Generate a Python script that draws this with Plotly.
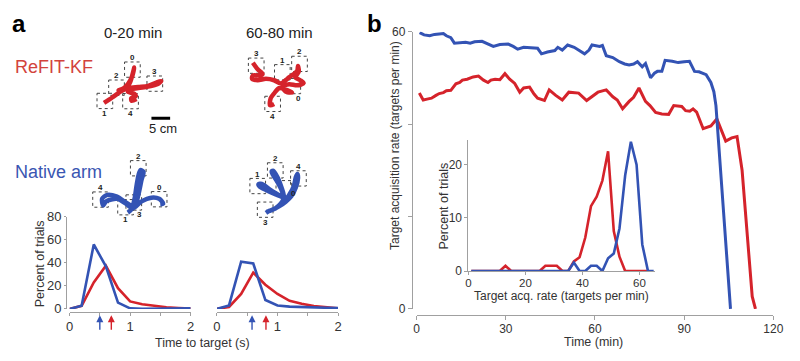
import plotly.graph_objects as go

FONT = "Arial, Liberation Sans, Helvetica, sans-serif"
RED = "#d5232b"
BLUE = "#3353b4"
RED_TXT = "#d2433c"
BLUE_TXT = "#3a56b2"
AXIS = "#a0a0a0"
TXT = "#333333"
W, H = 800, 361

# ---------------- panel b: target acquisition rate over time ----------------
native_time = [1, 2.5, 4.4, 6, 7.6, 9, 10, 11.5, 12.7, 14.5, 16.5, 18, 19.5, 22, 24, 25.8, 28,
               30.8, 32.5, 34, 36, 38, 40.7, 42, 44, 46.5, 47.5, 49, 50.8, 53, 55, 56.5, 58, 59,
               61.6, 62.5, 63.8, 66, 68.2, 70, 71.5, 73, 74.3, 75.9, 77, 78.7, 80, 81, 82.5, 83.6,
               86, 88, 90, 91.8, 93.5, 95, 97.4, 99, 100, 100.7, 105.6]
native_rate = [59.8, 59.3, 59.1, 59.4, 59.5, 59.6, 59.1, 58.7, 57.5, 57.6, 57.7, 57.5, 57.8, 57.9,
               57.3, 56.8, 57.2, 57.3, 56.8, 56.2, 56.6, 56.5, 56.4, 55.2, 55.6, 55.9, 56.6, 56.0,
               57.1, 56.6, 55.8, 55.2, 56.0, 57.1, 56.8, 57.0, 54.8, 54.4, 53.5, 53.0, 52.8, 53.0,
               53.5, 52.4, 53.1, 50.0, 51.0, 51.4, 51.4, 53.8, 53.6, 53.3, 53.5, 53.6, 51.4, 51.3,
               50.7, 49.0, 47.0, 44.0, 0.0]

refit_time = [0.9, 2.2, 3.5, 5, 6.5, 7.6, 9, 10, 11.5, 13.2, 14.5, 15.4, 17, 19, 20.8, 22.5, 24,
              25, 26.4, 28, 29.7, 31.3, 33, 34.7, 36, 38, 39.5, 40.7, 43, 44.6, 46.8, 49, 51.2,
              53, 54.5, 57.2, 59.4, 61, 63.8, 66, 67.5, 69.3, 71.5, 73, 74.8, 77, 78.5, 80.4,
              82.5, 84.8, 86.5, 89.2, 90.5, 91.9, 93, 94.2, 96.4, 99, 101, 104, 106, 107.8,
              109.5, 111.5, 112.9, 114]
refit_rate = [46.7, 45.2, 45.4, 45.6, 46.2, 46.6, 46.8, 47.2, 47.3, 48.7, 49.0, 49.5, 49.7, 50.2,
              50.4, 49.5, 49.0, 49.5, 49.7, 49.6, 50.9, 49.7, 48.8, 46.9, 47.8, 48.0, 46.5, 45.6,
              45.1, 47.4, 46.2, 45.2, 46.9, 46.8, 46.7, 45.1, 46.2, 46.9, 47.4, 45.9, 45.2, 43.3,
              44.9, 45.8, 47.8, 44.9, 44.0, 42.5, 42.2, 42.1, 44.0, 43.8, 42.9, 42.8, 43.3, 42.6,
              39.0, 39.6, 41.1, 36.3, 37.0, 37.3, 30.0, 14.0, 2.7, 0.0]

# inset histogram of acquisition rate
inset_rate = [1, 3, 5, 7, 9, 11, 13, 15, 17, 19, 21, 23, 25, 27, 29, 31, 33, 35, 37, 39, 41, 43,
              45, 47, 49, 51, 53, 55, 57, 59, 61, 63, 65]
inset_refit_pct = [0, 0, 0, 0, 0, 0, 1, 0, 0, 0, 0, 0, 0, 1, 1, 1, 0, 0, 1.8, 2.6, 6.3, 12.2,
                   14, 17, 22.5, 7.5, 2.7, 0, 0, 0, 0, 0, None]
inset_native_pct = [0, 0, 0, 0, 0, 0, 0, 0, 0, 0, 0, 0, 0, 0, 0, 0, 0, 0, 1.6, 0, 0, 1, 1, 0,
                    2.4, 3.3, 8, 18, 24.3, 20, 5, 0, 0]

# ---------------- panel a: time-to-target histograms ----------------
hist_time = [0, 0.2, 0.4, 0.6, 0.8, 1.0, 1.2, 1.4, 1.6, 1.8, 2.0]
hist_native_early = [0, 2.7, 56, 37, 5.5, 0.5, 0, 0, 0.3, 0.5, 0.5]
hist_refit_early = [0, 2.7, 23, 37.5, 18, 6.5, 4, 2.5, 1.5, 0.8, 0.3]
hist_native_late = [0, 3, 41, 39.5, 7.7, 3, 2, 1.5, 1, 1, 0.8]
hist_refit_late = [0, 1.7, 13, 31.5, 21, 13, 7, 4.4, 2.5, 1.2, 0.5]
median_early = {"native": 0.50, "refit": 0.69}
median_late = {"native": 0.58, "refit": 0.81}

# ---------------- panel a: example cursor trajectories (cm) ----------------
target_size_cm = 4.2
scale_bar_cm = 5

refit_early_targets = {"id": ["0", "2", "3", "1", "4"],
                       "x": [10.7, 6.45, 16.7, 3.33, 10.2],
                       "y": [5.35, 10.3, 9.2, 13.95, 14.0],
                       "side": ["a", "a", "a", "b", "b"]}
refit_early_x = [3.1, 5.3, 7.5, 9.2, 10.1, 10.7, 11.2, 10.7, 9.6, 8.3, 7.0, 9.6, 12.3, 14.9, 17.1,
                 18.4, 17.5, 14.9, 12.3, 10.4, 9.5, 11.2, 11.6, 10.4, 10.5, 11.8]
refit_early_y = [14.5, 13.0, 11.4, 10.4, 8.8, 6.8, 4.8, 7.0, 9.2, 10.5, 11.0, 10.4, 10.1, 9.8, 8.9,
                 8.5, 9.3, 10.0, 10.4, 10.8, 11.4, 12.0, 12.7, 13.2, 13.9, 13.4]

refit_late_targets = {"id": ["3", "1", "2", "0", "4"],
                      "x": [4.4, 11.4, 16.0, 14.2, 8.8],
                      "y": [5.6, 7.4, 5.1, 11.2, 16.1],
                      "side": ["a", "a", "a", "br", "b"]}
refit_late_x = [3.5, 4.8, 6.1, 5.3, 3.5, 3.3, 4.8, 7.0, 9.2, 11.0, 12.3, 13.2, 14.5, 15.4, 15.6,
                15.8, 14.9, 16.2, 17.1, 15.4, 13.2, 11.4, 12.3, 14.0, 12.7, 10.5, 9.2, 8.3, 8.1,
                9.2]
refit_late_y = [4.8, 6.6, 7.9, 8.3, 8.3, 9.2, 9.6, 9.2, 9.6, 10.5, 9.6, 8.8, 7.9, 7.0, 5.7, 7.2,
                8.8, 9.6, 10.4, 11.0, 10.7, 11.4, 12.7, 13.0, 12.3, 11.8, 13.2, 14.5, 16.5, 16.1]

native_early_targets = {"id": ["2", "4", "0", "1", "3"],
                        "x": [13.6, 3.5, 19.2, 10.2, 12.4],
                        "y": [4.8, 13.4, 13.3, 15.5, 14.2],
                        "side": ["a", "a", "a", "b", "br"]}
native_early_x = [10.8, 11.8, 12.6, 13.2, 13.7, 14.2, 15.0, 14.5, 13.7, 12.6, 10.3, 7.9, 5.3, 3.9,
                  4.2, 5.0, 7.9, 10.5, 12.1, 14.5, 17.1, 19.2, 20.3, 19.5]
native_early_y = [17.0, 16.1, 13.2, 9.2, 6.6, 5.3, 5.8, 7.9, 11.8, 15.3, 14.2, 12.6, 12.1, 13.2,
                  15.0, 13.9, 13.2, 14.7, 15.8, 13.9, 12.9, 13.2, 14.5, 14.7]

native_late_targets = {"id": ["2", "1", "4", "0", "3"],
                       "x": [9.5, 4.8, 15.7, 11.8, 6.8],
                       "y": [5.4, 9.7, 7.6, 10.3, 16.2],
                       "side": ["a", "a", "a", "r", "b"]}
native_late_x = [7.0, 7.9, 9.6, 11.0, 11.7, 11.4, 10.3, 9.0, 8.5, 9.0, 10.1, 11.1, 11.8, 9.6, 7.0,
                 5.3, 5.0, 5.9, 8.3, 11.0, 12.2, 13.4, 14.5, 15.0, 15.4, 15.6, 15.0, 13.8, 12.3,
                 10.5, 8.8, 7.2]
native_late_y = [17.1, 16.5, 15.8, 14.5, 13.2, 11.4, 9.0, 6.8, 5.7, 5.5, 7.3, 9.9, 12.7, 12.0,
                 10.8, 9.8, 9.2, 9.1, 10.8, 12.5, 13.4, 11.8, 9.6, 7.3, 6.4, 7.5, 10.1, 12.5,
                 14.0, 15.3, 16.2, 16.8]

# ---------------- figure ----------------
fig = go.Figure()


def py(p):
    return 1 - p / H


# main panel b
fig.add_trace(go.Scatter(x=refit_time, y=refit_rate, mode="lines", line=dict(color=RED, width=3),
                         xaxis="x", yaxis="y", cliponaxis=False, showlegend=False))
fig.add_trace(go.Scatter(x=native_time, y=native_rate, mode="lines", line=dict(color=BLUE, width=3),
                         xaxis="x", yaxis="y", cliponaxis=False, showlegend=False))
# inset
fig.add_trace(go.Scatter(x=inset_rate, y=inset_refit_pct, mode="lines", line=dict(color=RED, width=2.6),
                         xaxis="x2", yaxis="y2", cliponaxis=False, showlegend=False))
fig.add_trace(go.Scatter(x=inset_rate, y=inset_native_pct, mode="lines", line=dict(color=BLUE, width=2.6),
                         xaxis="x2", yaxis="y2", cliponaxis=False, showlegend=False))
# histograms
fig.add_trace(go.Scatter(x=hist_time, y=hist_refit_early, mode="lines", line=dict(color=RED, width=2.6),
                         xaxis="x3", yaxis="y3", cliponaxis=False, showlegend=False))
fig.add_trace(go.Scatter(x=hist_time, y=hist_native_early, mode="lines", line=dict(color=BLUE, width=2.6),
                         xaxis="x3", yaxis="y3", cliponaxis=False, showlegend=False))
fig.add_trace(go.Scatter(x=hist_time, y=hist_refit_late, mode="lines", line=dict(color=RED, width=2.6),
                         xaxis="x4", yaxis="y4", cliponaxis=False, showlegend=False))
fig.add_trace(go.Scatter(x=hist_time, y=hist_native_late, mode="lines", line=dict(color=BLUE, width=2.6),
                         xaxis="x4", yaxis="y4", cliponaxis=False, showlegend=False))

traj_sets = [
    ("x5", "y5", refit_early_targets, refit_early_x, refit_early_y, RED),
    ("x6", "y6", refit_late_targets, refit_late_x, refit_late_y, RED),
    ("x7", "y7", native_early_targets, native_early_x, native_early_y, BLUE),
    ("x8", "y8", native_late_targets, native_late_x, native_late_y, BLUE),
]
half = target_size_cm / 2
for xa, ya, tg, tx, ty, col in traj_sets:
    fig.add_trace(go.Scatter(x=tx, y=ty, mode="lines",
                             line=dict(color=col, width=4.5, shape="spline", smoothing=0.8),
                             xaxis=xa, yaxis=ya, cliponaxis=False, showlegend=False))
    for tid, cx, cy, side in zip(tg["id"], tg["x"], tg["y"], tg["side"]):
        fig.add_shape(type="rect", xref=xa, yref=ya, x0=cx - half, x1=cx + half,
                      y0=cy - half, y1=cy + half, layer="below",
                      line=dict(color="#444444", width=1, dash="dot"))
        if side == "a":
            lx, ly = cx, cy - half - 1.2
        elif side == "b":
            lx, ly = cx, cy + half + 1.3
        elif side == "br":
            lx, ly = cx + 1.6, cy + half + 1.2
        else:
            lx, ly = cx + half + 0.6, cy + 1.4
        fig.add_annotation(text="<b>" + tid + "</b>", x=lx, y=ly, xref=xa, yref=ya,
                           showarrow=False, font=dict(size=8, color="#222222", family=FONT))

# scale bar (5 cm) in the first trajectory panel
fig.add_shape(type="line", xref="x5", yref="y5", x0=15.8, x1=15.8 + scale_bar_cm, y0=18.7, y1=18.7,
              line=dict(color="black", width=3))

# median arrows
for xa, med in (("x3", median_early), ("x4", median_late)):
    for key, col in (("native", BLUE), ("refit", RED)):
        fig.add_annotation(x=med[key], y=py(321.5), xref=xa, yref="paper", ax=0, ay=16,
                           text="", showarrow=True, arrowhead=2, arrowsize=1, arrowwidth=1.4,
                           arrowcolor=col, standoff=0)


def txt(s, x, y, size, color=TXT, angle=0, xanchor="center"):
    fig.add_annotation(text=s, x=x / W, y=py(y), xref="paper", yref="paper", showarrow=False,
                       font=dict(size=size, color=color, family=FONT), textangle=angle,
                       xanchor=xanchor, yanchor="middle")


txt("<b>a</b>", 15, 17, 24, color="black")
txt("<b>b</b>", 377, 17, 24, color="black")
txt("0-20 min", 131.7, 27, 15, color="#222222")
txt("60-80 min", 280, 27, 15, color="#222222")
txt("ReFIT-KF", 9, 63, 18, color=RED_TXT, xanchor="left")
txt("Native arm", 9, 172, 18, color=BLUE_TXT, xanchor="left")
txt("5 cm", 161.7, 127, 13, color="#222222")
txt("Percent of trials", 36, 268, 12.5, angle=-90)
txt("Time to target (s)", 201.7, 350.5, 12.5)
txt("Target acquisition rate (targets per min)", 398, 145, 12, angle=-90)
txt("Time (min)", 600, 349.5, 12.5)
txt("Percent of trials", 448, 208, 12.5, angle=-90)
txt("Target acq. rate (targets per min)", 567, 301.5, 12)

axis_common = dict(showline=True, linecolor=AXIS, linewidth=1, ticks="outside", ticklen=4,
                   tickcolor=AXIS, showgrid=False, zeroline=False,
                   tickfont=dict(size=12, color=TXT, family=FONT))
hidden = dict(visible=False, showgrid=False, zeroline=False)
hist_tick = {**axis_common, "ticklen": 3, "tickfont": dict(size=13, color=TXT, family=FONT)}

fig.update_layout(
    width=W, height=H, margin=dict(l=0, r=0, t=0, b=0),
    paper_bgcolor="white", plot_bgcolor="rgba(0,0,0,0)", showlegend=False,
    font=dict(family=FONT, color=TXT),
    xaxis=dict(domain=[420 / W, 783 / W], range=[0, 120], anchor="free", position=py(321.7),
               tickvals=[0, 30, 60, 90, 120], ticklabelstandoff=-2, **axis_common),
    yaxis=dict(domain=[py(315), py(25.7)], range=[0, 60], anchor="free", position=415 / W,
               tickvals=[0, 20, 40, 60], ticktext=["0", "", "", "60"], **axis_common),
    xaxis2=dict(domain=[472.7 / W, 662.7 / W], range=[0, 65.5], anchor="y2",
                tickvals=[0, 20, 40, 60], ticklabelstandoff=-2,
                **{**axis_common, "ticklen": 3, "tickfont": dict(size=11.5, color=TXT, family=FONT)}),
    yaxis2=dict(domain=[py(275.5), py(138.4)], range=[0, 24.7], anchor="x2",
                tickvals=[0, 10, 20], **{**axis_common, "ticklen": 3}),
    xaxis3=dict(domain=[66.7 / W, 190 / W], range=[0, 2], anchor="free", position=py(318.3),
                tickvals=[0, 0.5, 1, 1.5, 2], ticktext=["0", "", "1", "", "2"],
                ticklabelstandoff=-1, **hist_tick),
    yaxis3=dict(domain=[py(315), py(219)], range=[0, 80], anchor="free", position=63.3 / W,
                tickvals=[0, 20, 40, 60, 80], **{**hist_tick, "ticklen": 2}),
    xaxis4=dict(domain=[216.7 / W, 340 / W], range=[0, 2], anchor="free", position=py(318.3),
                tickvals=[0, 0.5, 1, 1.5, 2], ticktext=["0", "", "1", "", "2"],
                ticklabelstandoff=-1, **hist_tick),
    yaxis4=dict(domain=[py(315), py(219)], range=[0, 80], anchor="x4", **hidden),
    xaxis5=dict(domain=[90 / W, 190 / W], range=[0, 26.3], anchor="y5", **hidden),
    yaxis5=dict(domain=[py(125), py(45)], range=[21.05, 0], anchor="x5", **hidden),
    xaxis6=dict(domain=[240 / W, 330 / W], range=[0, 23.7], anchor="y6", **hidden),
    yaxis6=dict(domain=[py(125), py(40)], range=[22.4, 0], anchor="x6", **hidden),
    xaxis7=dict(domain=[85 / W, 175 / W], range=[0, 23.7], anchor="y7", **hidden),
    yaxis7=dict(domain=[py(230), py(150)], range=[21.05, 0], anchor="x7", **hidden),
    xaxis8=dict(domain=[240 / W, 320 / W], range=[0, 21.05], anchor="y8", **hidden),
    yaxis8=dict(domain=[py(235), py(150)], range=[22.4, 0], anchor="x8", **hidden),
)

fig.write_html("out.html", config={"displayModeBar": False},
               post_script="document.body.style.margin='0';document.body.style.overflow='hidden';")
